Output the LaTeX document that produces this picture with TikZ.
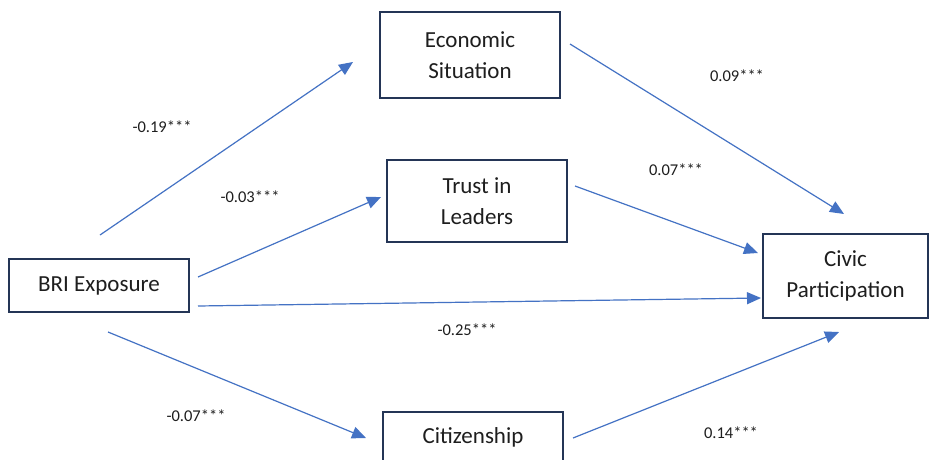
\documentclass[tikz,border=0pt]{standalone}
\usepackage{fontspec}
\setmainfont{Carlito}
\usetikzlibrary{arrows.meta}
\definecolor{arrowblue}{HTML}{4472C4}
\definecolor{boxnavy}{HTML}{243556}
\definecolor{txt}{HTML}{1E1E1E}
\begin{document}
\begin{tikzpicture}[x=1pt,y=-1pt,
  box/.style={draw=boxnavy, line width=2.4pt, fill=white, minimum width=180pt, align=center,
    text=txt, font=\fontsize{23}{31}\selectfont, inner sep=0pt},
  path/.style={draw=arrowblue, line width=1.2pt, -{Triangle[length=14pt,width=12pt]}},
  coef/.style={text=txt, font=\fontsize{16.5}{18}\selectfont, inner sep=0pt}]
\useasboundingbox (0,0) rectangle (931,460);
\clip (0,0) rectangle (931,460);
\fill[white] (0,0) rectangle (931,460);
% nodes
\node[box, minimum height=86pt] (econ) at (470,55) {Economic\\Situation};
\node[box, minimum height=82pt] (trust) at (477,201) {Trust in\\Leaders};
\node[box, minimum height=53pt] (bri) at (99,285.5) {BRI Exposure};
\node[box, minimum width=165pt, minimum height=84pt] (civic) at (845.5,276) {Civic\\Participation};
\node[box, minimum height=50pt] (cit) at (473,437) {Citizenship};
% connector end points
\coordinate (a1) at (100,235); \coordinate (b1) at (353,62);
\coordinate (a2) at (198,277); \coordinate (b2) at (381,197);
\coordinate (a3) at (198,306); \coordinate (b3) at (761,298);
\coordinate (a4) at (108,332); \coordinate (b4) at (366,438);
\coordinate (a5) at (570,44);  \coordinate (b5) at (844,214);
\coordinate (a6) at (575,186); \coordinate (b6) at (758,253);
\coordinate (a7) at (573,438); \coordinate (b7) at (839,332);
% connectors
\draw[path] (a1) -- (b1);
\draw[path] (a2) -- (b2);
\draw[path] (a3) -- (b3);
\draw[path] (a4) -- (b4);
\draw[path] (a5) -- (b5);
\draw[path] (a6) -- (b6);
\draw[path] (a7) -- (b7);
% coefficients
\node[coef] (l1) at (162,127) {-0.19***};
\node[coef] (l2) at (250,197) {-0.03***};
\node[coef] (l3) at (467,330) {-0.25***};
\node[coef] (l4) at (196,416) {-0.07***};
\node[coef] (l5) at (737,76) {0.09***};
\node[coef] (l6) at (676,170) {0.07***};
\node[coef] (l7) at (731,433) {0.14***};
\end{tikzpicture}
\end{document}
